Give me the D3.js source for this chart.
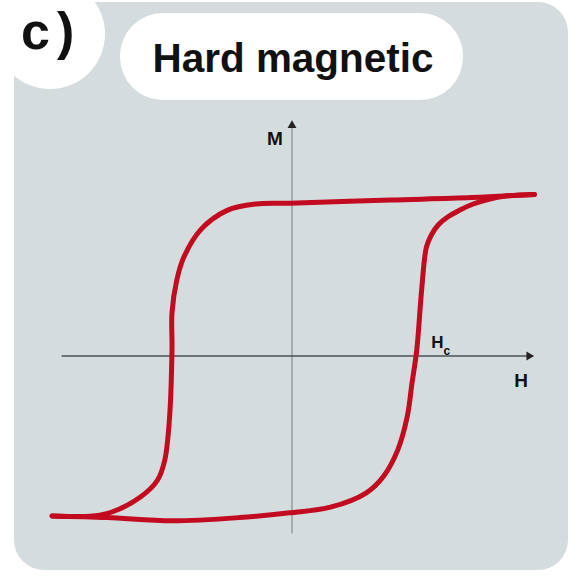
<!DOCTYPE html>
<html>
<head>
<meta charset="utf-8">
<script src="https://cdn.jsdelivr.net/npm/d3@7/dist/d3.min.js"></script>
<style>
  body { margin: 0; background: #ffffff; }
  svg { display: block; }
  text { font-family: "Liberation Sans", Arial, sans-serif; font-weight: bold; fill: #111; }
</style>
</head>
<body>
<svg width="582" height="576"></svg>
<script>
// hysteresis loop (H and M in arbitrary units)
var upperH = [10.1, 7.5, 4.1, -0.1, -1.5, -2.7, -3.8, -4.5, -4.8, -5.0, -5.0, -5.1, -5.3, -5.6, -6.3, -7.5, -8.3, -10.0];
var upperM = [10.1, 9.9, 9.75, 9.55, 9.5, 9.1, 7.9, 6.2, 4.75, 2.7, 0.4, -3.8, -6.5, -7.75, -8.8, -9.75, -10.0, -10.0];

var lowerH = [-10.0, -7.7, -5.0, -2.2, -0.1, 1.6, 3.1, 3.8, 4.4, 4.8, 5.0, 5.2, 5.4, 5.6, 5.8, 6.1, 6.5, 7.0, 7.55, 8.2, 8.9, 10.1];
var lowerM = [-10.0, -10.1, -10.3, -10.1, -9.8, -9.45, -8.55, -7.55, -5.9, -3.8, -1.7, 0.4, 4.1, 6.8, 7.55, 8.2, 8.7, 9.13, 9.5, 9.8, 10.0, 10.1];

var panelLabel = "c)";
var title = "Hard magnetic";
var xLabel = "H";
var yLabel = "M";
var coerciveLabel = "H";
var coerciveSub = "c";

var svg = d3.select("svg");

// grey panel with the white notch for the panel letter
svg.append("rect")
    .attr("x", 14).attr("y", 2)
    .attr("width", 554).attr("height", 568)
    .attr("rx", 30).attr("ry", 30)
    .style("fill", "#d5dcdd");

svg.append("circle")
    .attr("cx", 50).attr("cy", 34).attr("r", 55)
    .style("fill", "#ffffff");

svg.append("text")
    .attr("x", 21).attr("y", 49)
    .style("font-size", "52px")
    .style("letter-spacing", "7px")
    .text(panelLabel);

// title pill
svg.append("rect")
    .attr("x", 120).attr("y", 13)
    .attr("width", 343).attr("height", 87)
    .attr("rx", 43).attr("ry", 43)
    .style("fill", "#ffffff");

svg.append("text")
    .attr("x", 293).attr("y", 72)
    .attr("text-anchor", "middle")
    .style("font-size", "41px")
    .attr("textLength", 281)
    .attr("lengthAdjust", "spacingAndGlyphs")
    .text(title);

var x = d3.scaleLinear().domain([-10, 10]).range([52, 532]);
var y = d3.scaleLinear().domain([-10, 10]).range([516, 196]);

var g = svg.append("g");

// axes
g.append("line")
    .attr("x1", x(0)).attr("x2", x(0))
    .attr("y1", y(-11.1)).attr("y2", y(14.6))
    .style("stroke", "#8b9396").style("stroke-width", 1.3);

g.append("line")
    .attr("x1", x(-9.6)).attr("x2", x(9.8))
    .attr("y1", y(0)).attr("y2", y(0))
    .style("stroke", "#4b5154").style("stroke-width", 1.6);

g.append("path")
    .attr("d", d3.symbol().type(d3.symbolTriangle).size(34)())
    .attr("transform", "translate(" + x(0) + "," + (y(14.6) + 3) + ")")
    .style("fill", "#222");

g.append("path")
    .attr("d", d3.symbol().type(d3.symbolTriangle).size(34)())
    .attr("transform", "translate(" + (x(10) - 3) + "," + y(0) + ") rotate(90)")
    .style("fill", "#222");

g.append("text")
    .attr("x", x(0) - 17).attr("y", y(13.2))
    .attr("text-anchor", "middle")
    .style("font-size", "19px")
    .text(yLabel);

g.append("text")
    .attr("x", x(9.55)).attr("y", y(-1.95))
    .attr("text-anchor", "middle")
    .style("font-size", "19px")
    .text(xLabel);

var hc = g.append("text")
    .attr("x", x(5.8)).attr("y", y(0.5))
    .style("font-size", "17px")
    .text(coerciveLabel);
hc.append("tspan")
    .attr("dy", 7)
    .style("font-size", "12px")
    .text(coerciveSub);

// loop
var line = d3.line()
    .x(function (d) { return x(d[0]); })
    .y(function (d) { return y(d[1]); })
    .curve(d3.curveCatmullRom.alpha(0.5));

var upper = upperH.map(function (h, i) { return [h, upperM[i]]; });
var lower = lowerH.map(function (h, i) { return [h, lowerM[i]]; });

g.selectAll("path.branch")
    .data([upper, lower])
    .enter().append("path")
    .attr("class", "branch")
    .attr("d", line)
    .style("fill", "none")
    .style("stroke", "#c20a20")
    .style("stroke-width", 5)
    .style("stroke-linecap", "round")
    .style("stroke-linejoin", "round");
</script>
</body>
</html>
